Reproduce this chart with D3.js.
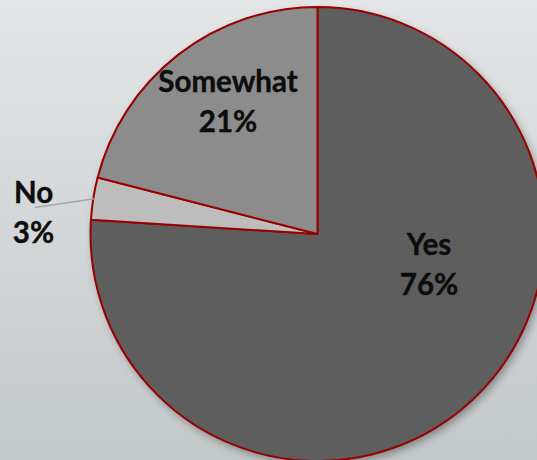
<!DOCTYPE html>
<html>
<head>
<meta charset="utf-8">
<script src="https://cdn.jsdelivr.net/npm/d3@7"></script>
<style>
  html, body { margin: 0; padding: 0; overflow: hidden; }
  svg { display: block; }
  .lbl { font-family: Lato, "Open Sans", sans-serif; font-weight: 700; font-size: 29.5px; fill: #0d0d0d; stroke: #0d0d0d; stroke-width: 0.4px; }
</style>
</head>
<body>
<svg id="chart" width="537" height="460"></svg>
<script>
// Survey answers and their shares (percent)
const categories = ["Yes", "No", "Somewhat"];
const values = [76, 3, 21];
const percentLabels = ["76%", "3%", "21%"];

const sliceColors = ["#5e5e5e", "#bdbdbd", "#8c8c8c"];

const W = 537, H = 460;
const cx = 317.5, cy = 234, R = 227;

// Label anchor points (baseline of the first line) for each slice
const labelLayout = [
  { x: 429, y: 255 },      // Yes
  { x: 33.5, y: 203 },     // No (outside, with leader line)
  { x: 228, y: 92 }        // Somewhat
];

const svg = d3.select("#chart");
const defs = svg.append("defs");

const bg = defs.append("linearGradient")
  .attr("id", "bg").attr("x1", 0).attr("y1", 0).attr("x2", 0).attr("y2", 1);
bg.append("stop").attr("offset", "0%").attr("stop-color", "#e3e5e7");
bg.append("stop").attr("offset", "100%").attr("stop-color", "#c3c8c9");

const shadow = defs.append("filter").attr("id", "shadow")
  .attr("x", "-20%").attr("y", "-20%").attr("width", "140%").attr("height", "140%");
shadow.append("feDropShadow")
  .attr("dx", 3).attr("dy", 4).attr("stdDeviation", 4)
  .attr("flood-color", "#000").attr("flood-opacity", 0.35);

svg.append("rect").attr("width", W).attr("height", H).attr("fill", "url(#bg)");

const pie = d3.pie().sort(null).value(d => d)(values);
const arc = d3.arc().innerRadius(0).outerRadius(R);

const g = svg.append("g").attr("transform", `translate(${cx},${cy})`);

// shadow under the whole disc
g.append("circle").attr("r", R).attr("fill", "#5e5e5e").attr("filter", "url(#shadow)");

g.selectAll("path.slice")
  .data(pie)
  .join("path")
  .attr("class", "slice")
  .attr("d", arc)
  .attr("fill", (d, i) => sliceColors[i])
  .attr("stroke", "#990000")
  .attr("stroke-width", 2)
  .attr("stroke-linejoin", "round");

// leader line for the small "No" slice
const noArc = pie[1];
const mid = (noArc.startAngle + noArc.endAngle) / 2;
const edge = [Math.sin(mid) * (R - 1) + cx, -Math.cos(mid) * (R - 1) + cy];
svg.append("line")
  .attr("x1", 35).attr("y1", 207.5)
  .attr("x2", edge[0]).attr("y2", edge[1])
  .attr("stroke", "#a6a6a6").attr("stroke-width", 1.5);

// two-line labels: category name and percentage
categories.forEach((c, i) => {
  const p = labelLayout[i];
  svg.append("text").attr("class", "lbl")
    .attr("x", p.x).attr("y", p.y).attr("text-anchor", "middle").text(c);
  svg.append("text").attr("class", "lbl")
    .attr("x", p.x).attr("y", p.y + 40).attr("text-anchor", "middle").text(percentLabels[i]);
});
</script>
</body>
</html>
